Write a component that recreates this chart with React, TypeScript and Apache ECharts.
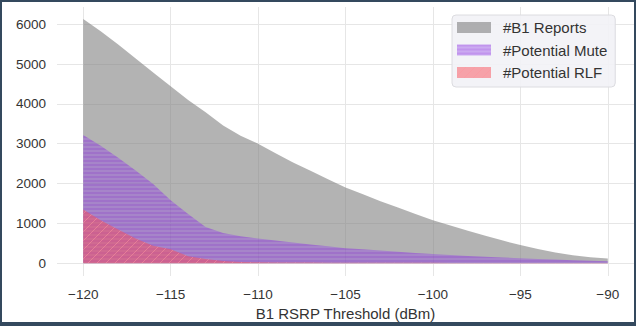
import React, { useEffect, useRef } from "react";
import * as echarts from "echarts";

const thresholds = [-120, -119, -118, -117, -116, -115, -114, -113, -112, -111, -110, -109, -108, -107, -106, -105, -104, -103, -102, -101, -100, -99, -98, -97, -96, -95, -94, -93, -92, -91, -90];
const b1Reports = [6130, 5820, 5490, 5140, 4790, 4440, 4100, 3790, 3460, 3200, 3000, 2760, 2530, 2320, 2110, 1900, 1730, 1560, 1400, 1240, 1080, 950, 820, 690, 570, 460, 360, 270, 200, 150, 120];
const potentialMute = [3220, 2950, 2650, 2330, 1990, 1580, 1240, 910, 760, 680, 620, 570, 520, 470, 430, 380, 350, 320, 290, 260, 235, 210, 185, 165, 145, 125, 110, 95, 80, 65, 55];
const potentialRLF = [1350, 1080, 850, 620, 440, 350, 180, 110, 60, 35, 25, 22, 20, 18, 17, 16, 15, 14, 13, 12, 12, 11, 11, 10, 10, 10, 9, 9, 8, 8, 8];
const seriesNames = ["#B1 Reports", "#Potential Mute", "#Potential RLF"];
const xAxisTitle = "B1 RSRP Threshold (dBm)";

const FONT = '"Liberation Sans", Arial, sans-serif';

function makePattern(w: number, h: number, draw: (ctx: CanvasRenderingContext2D) => void) {
  const c = document.createElement("canvas");
  c.width = w;
  c.height = h;
  const ctx = c.getContext("2d") as CanvasRenderingContext2D;
  draw(ctx);
  return { image: c, repeat: "repeat", imageWidth: w, imageHeight: h } as any;
}

export default function App() {
  const ref = useRef<HTMLDivElement>(null);
  useEffect(() => {
    if (!ref.current) return;
    const chart = echarts.init(ref.current, undefined, { renderer: "svg" });

    const grayFill = "rgba(128,128,128,0.6)";
    const purplePattern = makePattern(8, 4, (ctx) => {
      ctx.fillStyle = "rgba(138,43,226,0.48)";
      ctx.fillRect(0, 0, 8, 2);
      ctx.fillStyle = "rgba(148,70,230,0.42)";
      ctx.fillRect(0, 2, 8, 2);
    });
    const redPattern = makePattern(9, 9, (ctx) => {
      ctx.fillStyle = "rgba(250,80,90,0.5)";
      ctx.fillRect(0, 0, 9, 9);
      ctx.strokeStyle = "rgba(255,150,160,0.5)";
      ctx.lineWidth = 1;
      ctx.beginPath();
      ctx.moveTo(-1, 10);
      ctx.lineTo(10, -1);
      ctx.moveTo(-1, 1);
      ctx.lineTo(1, -1);
      ctx.moveTo(8, 10);
      ctx.lineTo(10, 8);
      ctx.stroke();
    });

    const fills = [grayFill, purplePattern, redPattern];
    const values = [b1Reports, potentialMute, potentialRLF];

    const gridLeft = 57;
    const gridWidth = 577;
    const gridTop = 7;
    const gridHeight = 269;
    const xMin = -121.5;
    const xMax = -88.5;
    const yMin = -318;
    const yMax = 6430;
    const pxPerY = gridHeight / (yMax - yMin);
    const pxPerX = gridWidth / (xMax - xMin);
    const yTickTop = 6000;

    const option: any = {
      animation: false,
      backgroundColor: "#ffffff",
      textStyle: { fontFamily: FONT },
      grid: [
        { left: gridLeft, top: gridTop, width: gridWidth, height: gridHeight },
        {
          left: gridLeft,
          top: gridTop + (yMax - yTickTop) * pxPerY,
          width: gridWidth,
          height: yTickTop * pxPerY,
        },
        {
          left: gridLeft + (thresholds[0] - xMin) * pxPerX,
          top: gridTop,
          width: (thresholds[thresholds.length - 1] - thresholds[0]) * pxPerX,
          height: gridHeight,
        },
      ],
      xAxis: [
        { type: "value", gridIndex: 0, min: xMin, max: xMax, show: false },
        { type: "value", gridIndex: 1, min: 0, max: 1, show: false },
        {
          type: "value",
          gridIndex: 2,
          min: thresholds[0],
          max: thresholds[thresholds.length - 1],
          interval: 5,
          axisLine: { show: false },
          axisTick: { show: false },
          splitLine: { show: true, lineStyle: { color: "#e6e6e6", width: 1 } },
          axisLabel: {
            color: "#333",
            fontSize: 13.5,
            fontFamily: FONT,
            margin: 11,
            formatter: (v: number) => String(v).replace("-", "\u2212"),
          },
          name: xAxisTitle,
          nameLocation: "middle",
          nameGap: 27,
          nameTextStyle: { color: "#333", fontSize: 15, fontFamily: FONT },
        },
      ],
      yAxis: [
        { type: "value", gridIndex: 0, min: yMin, max: yMax, show: false },
        {
          type: "value",
          gridIndex: 1,
          min: 0,
          max: yTickTop,
          interval: 1000,
          axisLine: { show: false },
          axisTick: { show: false },
          splitLine: { show: true, lineStyle: { color: "#e6e6e6", width: 1 } },
          axisLabel: {
            color: "#333",
            fontSize: 13.5,
            fontFamily: FONT,
            margin: 11,
            formatter: (v: number) => String(v),
          },
        },
        { type: "value", gridIndex: 2, min: 0, max: 1, show: false },
      ],
      legend: {
        data: seriesNames,
        orient: "vertical",
        left: 452,
        top: 15,
        icon: "rect",
        itemWidth: 34,
        itemHeight: 11,
        itemGap: 7.5,
        padding: [5, 8, 7, 5],
        backgroundColor: "rgba(242,242,246,0.92)",
        borderColor: "#dcdce0",
        borderWidth: 1,
        borderRadius: 4,
        itemStyle: { borderWidth: 0 },
        textStyle: { color: "#333", fontSize: 15, fontFamily: FONT, padding: [0, 0, 0, 7] },
      },
      series: seriesNames.map((name, i) => ({
        name,
        type: "line",
        xAxisIndex: 0,
        yAxisIndex: 0,
        data: thresholds.map((x, j) => [x, values[i][j]]),
        showSymbol: false,
        symbol: "none",
        lineStyle: { width: 0, opacity: 0 },
        itemStyle: { color: fills[i] },
        areaStyle: { color: fills[i], opacity: 1 },
        z: 2 + i,
      })),
    };
    chart.setOption(option);
    return () => chart.dispose();
  }, []);

  return (
    <div style={{ position: "fixed", left: 0, top: 0, width: 636, height: 326, background: "#fff" }}>
      <div ref={ref} style={{ position: "absolute", left: 0, top: 0, width: 636, height: 326 }} />
      <div
        style={{
          position: "absolute",
          left: 0,
          top: 0,
          width: 636,
          height: 326,
          boxSizing: "border-box",
          borderStyle: "solid",
          borderColor: "#34495e",
          borderWidth: "2px 2px 4px 2px",
          pointerEvents: "none",
        }}
      />
    </div>
  );
}
